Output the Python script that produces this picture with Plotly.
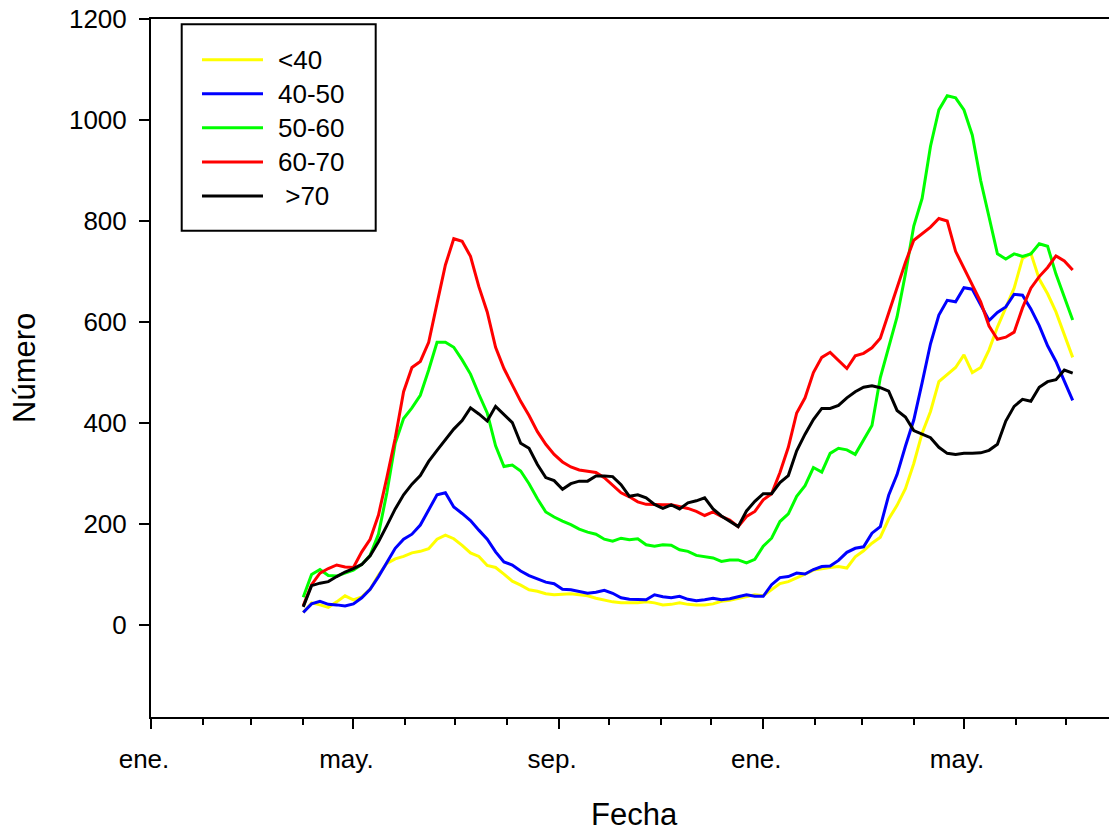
import plotly.graph_objects as go

# ---------------- data ----------------
dates = [
    "2020-04-01", "2020-04-06", "2020-04-11", "2020-04-16", "2020-04-21", "2020-04-26",
    "2020-05-01", "2020-05-06", "2020-05-11", "2020-05-16", "2020-05-21", "2020-05-26", "2020-05-31",
    "2020-06-05", "2020-06-10", "2020-06-15", "2020-06-20", "2020-06-25", "2020-06-30",
    "2020-07-05", "2020-07-10", "2020-07-15", "2020-07-20", "2020-07-25", "2020-07-30",
    "2020-08-04", "2020-08-09", "2020-08-14", "2020-08-19", "2020-08-24", "2020-08-29",
    "2020-09-03", "2020-09-08", "2020-09-13", "2020-09-18", "2020-09-23", "2020-09-28",
    "2020-10-03", "2020-10-08", "2020-10-13", "2020-10-18", "2020-10-23", "2020-10-28",
    "2020-11-02", "2020-11-07", "2020-11-12", "2020-11-17", "2020-11-22", "2020-11-27",
    "2020-12-02", "2020-12-07", "2020-12-12", "2020-12-17", "2020-12-22", "2020-12-27",
    "2021-01-01", "2021-01-06", "2021-01-11", "2021-01-16", "2021-01-21", "2021-01-26", "2021-01-31",
    "2021-02-05", "2021-02-10", "2021-02-15", "2021-02-20", "2021-02-25",
    "2021-03-02", "2021-03-07", "2021-03-12", "2021-03-17", "2021-03-22", "2021-03-27",
    "2021-04-01", "2021-04-06", "2021-04-11", "2021-04-16", "2021-04-21", "2021-04-26",
    "2021-05-01", "2021-05-06", "2021-05-11", "2021-05-16", "2021-05-21", "2021-05-26", "2021-05-31",
    "2021-06-05", "2021-06-10", "2021-06-15", "2021-06-20", "2021-06-25", "2021-06-30",
    "2021-07-05",
]

menos40 = [
    25, 44, 40, 35, 46, 58, 50, 56, 71, 99, 122, 131, 136, 143, 146, 151, 170, 178, 171, 158,
    143, 136, 118, 114, 101, 87, 79, 70, 67, 62, 60, 61, 62, 60, 58, 53, 49, 46, 44, 44,
    44, 46, 44, 40, 41, 44, 41, 40, 40, 42, 47, 49, 53, 57, 60, 58, 70, 82, 86, 93,
    101, 109, 112, 114, 116, 113, 135, 147, 162, 174, 210, 237, 270, 320, 380, 423, 482, 497, 510, 535,
    500, 510, 545, 590, 627, 667, 726, 736, 685, 656, 620, 575, 530,
]

r40_50 = [
    25, 42, 47, 41, 40, 38, 42, 54, 71, 96, 124, 152, 170, 180, 198, 228, 258, 262, 234, 221,
    207, 188, 170, 145, 125, 119, 107, 98, 92, 85, 82, 71, 70, 66, 63, 65, 69, 63, 54, 51,
    50, 50, 60, 56, 54, 57, 51, 48, 50, 53, 50, 52, 56, 60, 57, 57, 80, 94, 96, 103,
    101, 110, 116, 117, 128, 144, 152, 155, 182, 195, 257, 298, 354, 406, 480, 557, 614, 643, 640, 668,
    665, 635, 603, 619, 630, 655, 653, 626, 593, 553, 522, 483, 445,
]

r50_60 = [
    55, 100, 110, 98, 97, 103, 109, 120, 138, 180, 262, 360, 409, 430, 455, 505, 560, 560, 550, 525,
    497, 457, 420, 355, 314, 317, 305, 280, 250, 224, 214, 206, 199, 190, 184, 180, 170, 166, 172, 169,
    171, 159, 156, 159, 158, 149, 146, 138, 136, 133, 126, 129, 129, 123, 130, 156, 172, 205, 220, 255,
    276, 312, 303, 340, 350, 347, 338, 368, 395, 490, 548, 610, 695, 790, 845, 948, 1020, 1048, 1044, 1020,
    970, 880, 808, 735, 725, 735, 730, 735, 755, 750, 695, 650, 604,
]

r60_70 = [
    38, 80, 103, 112, 119, 115, 114, 145, 170, 218, 292, 370, 462, 510, 522, 560, 637, 713, 765, 760,
    730, 670, 620, 550, 508, 475, 443, 415, 383, 358, 338, 323, 313, 307, 305, 302, 292, 276, 262, 254,
    244, 239, 238, 238, 238, 235, 231, 225, 217, 224, 215, 208, 195, 215, 225, 248, 260, 302, 352, 420,
    450, 500, 530, 540, 524, 508, 533, 538, 549, 568, 618, 668, 718, 762, 775, 788, 805, 800, 740, 706,
    672, 640, 592, 566, 570, 580, 628, 667, 690, 708, 731, 721, 703,
]

mas70 = [
    36, 78, 83, 86, 96, 105, 112, 120, 137, 165, 197, 230, 258, 279, 296, 324, 346, 368, 388, 405,
    430, 418, 404, 433, 416, 401, 360, 350, 318, 292, 286, 269, 280, 285, 285, 295, 295, 294, 278, 255,
    258, 252, 239, 231, 238, 230, 242, 246, 252, 230, 216, 206, 195, 226, 245, 260, 260, 282, 296, 345,
    378, 407, 429, 429, 435, 450, 462, 471, 474, 470, 463, 425, 412, 385, 378, 371, 352, 340, 338, 340,
    340, 341, 346, 358, 404, 433, 447, 443, 471, 482, 486, 505, 499,
]

series_names = ["<40", "40-50", "50-60", "60-70", "\u00a0>70"]
series_values = [menos40, r40_50, r50_60, r60_70, mas70]
series_colors = ["#FFFF00", "#0000FF", "#00FF00", "#FF0000", "#000000"]

x_tick_vals = ["2020-01-01", "2020-05-01", "2020-09-01", "2021-01-01", "2021-05-01"]
x_tick_text = ["ene.", "may.", "sep.", "ene.", "may."]
y_tick_vals = [0, 200, 400, 600, 800, 1000, 1200]
y_tick_text = ["0", "200", "400", "600", "800", "1000", "1200"]

FONT = "Liberation Sans, Arial, Helvetica, sans-serif"

# ---------------- figure ----------------
fig = go.Figure()
for name, vals, col in zip(series_names, series_values, series_colors):
    fig.add_trace(go.Scatter(x=dates, y=vals, mode="lines", name=name.strip(),
                             line=dict(color=col, width=3), showlegend=False))

fig.update_layout(
    width=1109, height=834,
    margin=dict(l=151, r=0, t=19, b=117),
    plot_bgcolor="white", paper_bgcolor="white",
    font=dict(family=FONT, color="black"),
    showlegend=False,
)

fig.update_xaxes(
    type="date", range=["2020-01-01", "2021-07-26 17:00"],
    showline=True, linecolor="black", linewidth=2, mirror=True,
    showgrid=False, zeroline=False,
    tickmode="array", tickvals=x_tick_vals, ticktext=x_tick_text,
    ticks="outside", ticklen=10, tickwidth=2, tickcolor="black",
    tickfont=dict(size=26, color="black", family=FONT),
    ticklabelstandoff=8, ticklabelshift=-7,
    minor=dict(tick0="2020-01-01", dtick="M1", ticks="outside", ticklen=6,
               tickwidth=2, tickcolor="black", showgrid=False),
)
fig.update_yaxes(
    range=[-182, 1200],
    showline=True, linecolor="black", linewidth=2, mirror=False,
    showgrid=False, zeroline=False,
    tickmode="array", tickvals=y_tick_vals, ticktext=y_tick_text,
    ticks="outside", ticklen=10, tickwidth=2, tickcolor="black",
    tickfont=dict(size=26, color="black", family=FONT),
    ticklabelstandoff=7,
)

# axis titles
fig.add_annotation(text="Número", xref="paper", yref="paper", x=-0.1326, y=0.5,
                   xanchor="center", yanchor="middle", textangle=-90, showarrow=False,
                   font=dict(size=31, color="black", family=FONT))
fig.add_annotation(text="Fecha", xref="paper", yref="paper", x=0.505, y=-0.139,
                   xanchor="center", yanchor="middle", showarrow=False,
                   font=dict(size=31, color="black", family=FONT))

# legend box (drawn manually to match the reference layout)
fig.add_shape(type="rect", xref="paper", yref="paper",
              x0=0.03205, x1=0.23455, y0=0.69670, y1=0.99241,
              line=dict(color="black", width=2), fillcolor="white", layer="above")
legend_rows = [0.94169, 0.89298, 0.84427, 0.79513, 0.74642]
for name, col, ry in zip(series_names, series_colors, legend_rows):
    fig.add_shape(type="line", xref="paper", yref="paper",
                  x0=0.05324, x1=0.11691, y0=ry, y1=ry,
                  line=dict(color=col, width=3), layer="above")
    fig.add_annotation(text=name, xref="paper", yref="paper", x=0.1310, y=ry,
                       xanchor="left", yanchor="middle", showarrow=False,
                       font=dict(size=26, color="black", family=FONT))

fig.write_html("out.html")
